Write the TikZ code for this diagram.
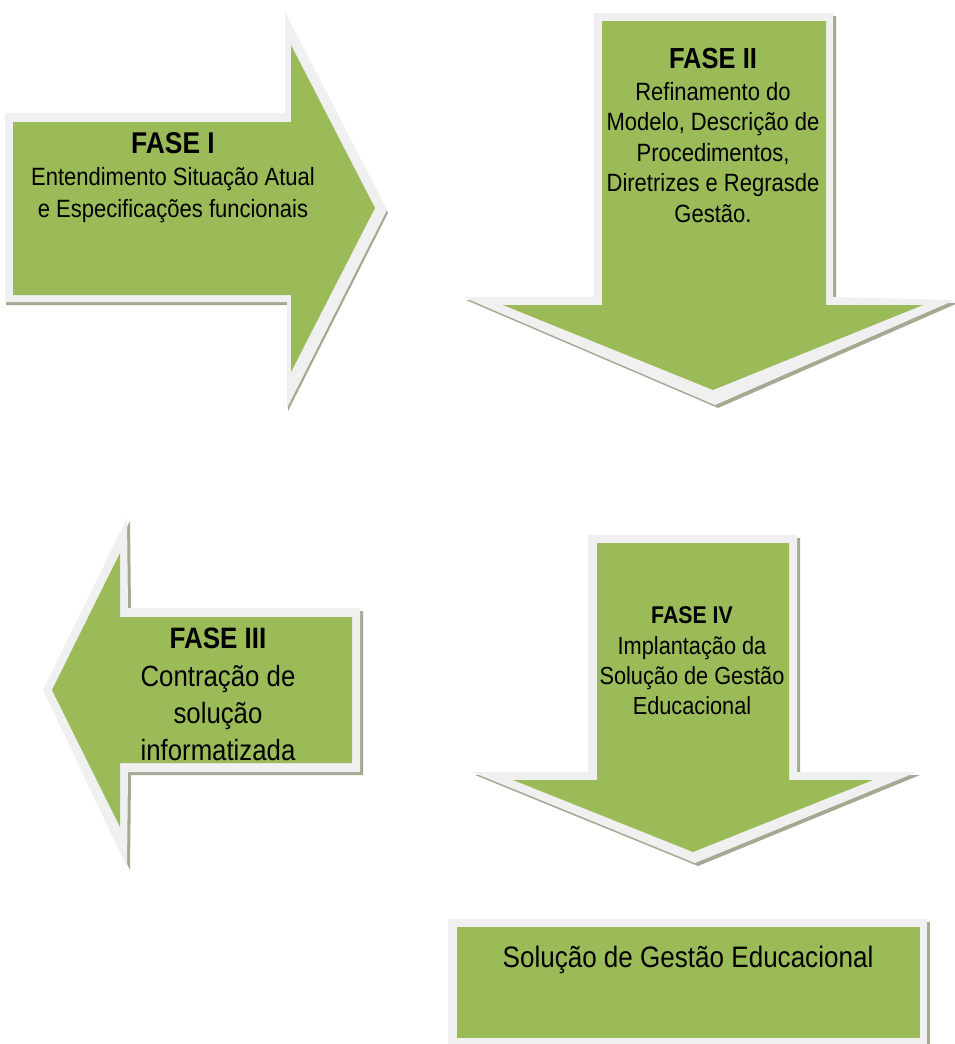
\documentclass[tikz,border=0pt]{standalone}
\usepackage{fontspec}
\setmainfont{Liberation Sans}[FakeStretch=0.88]
\definecolor{fillgreen}{HTML}{9BBB59}
\definecolor{bandgray}{HTML}{F0F0F0}
\definecolor{shadowcol}{HTML}{A2AA92}
\tikzset{
  band/.style={fill=bandgray, draw=none},
  inner/.style={fill=fillgreen, draw=none},
  shade/.style={fill=shadowcol, draw=none},
  label/.style={anchor=base, inner sep=0pt, text=black}
}
\newcommand\stackrows[2]{\vtop{\baselineskip=#1\lineskiplimit=-\maxdimen\lineskip=0pt\halign{\hfil##\hfil\cr#2\cr}}}
\begin{document}
\begin{tikzpicture}[x=1pt,y=-1pt]
\useasboundingbox (0,0) rectangle (955,1044);
% ---------- FASE I : right arrow
\begin{scope}[shift={(1,3)}]
\fill[shade] (5,113) -- (285,113) -- (285,12) -- (387,210) -- (287,408) -- (287,302) -- (5,302) -- cycle;
\end{scope}
\fill[band] (5,113) -- (285,113) -- (285,12) -- (387,210) -- (287,408) -- (287,302) -- (5,302) -- cycle;
\fill[inner] (13,122) -- (291,122) -- (291,45) -- (375,208) -- (291,372) -- (291,295) -- (13,295) -- cycle;
\node[label] (f1) at (173,153) {\fontsize{25}{32}\selectfont\stackrows{32pt}{{\fontsize{30}{32}\selectfont\bfseries FASE I}\cr Entendimento Situação Atual\cr e Especificações funcionais}};
% ---------- FASE II : down arrow
\begin{scope}[shift={(3,3)}]
\fill[shade] (594,13) -- (833,13) -- (833,297) -- (955,300) -- (715,405) -- (463,297) -- (594,297) -- cycle;
\end{scope}
\fill[band] (594,13) -- (833,13) -- (833,297) -- (955,300) -- (715,405) -- (463,297) -- (594,297) -- cycle;
\fill[inner] (602,21) -- (826,21) -- (826,305) -- (923,305) -- (713,390) -- (503,305) -- (602,305) -- cycle;
\node[label] (f2) at (713,68) {\fontsize{25}{30}\selectfont\stackrows{30.5pt}{{\fontsize{29}{30}\selectfont\bfseries FASE II}\cr\noalign{\kern1.5pt}Refinamento do\cr Modelo, Descrição de\cr Procedimentos,\cr Diretrizes e Regrasde\cr Gestão.}};
% ---------- FASE III : left arrow
\begin{scope}[shift={(3,3)}]
\fill[shade] (43,690) -- (127,518) -- (128,608) -- (360,608) -- (360,772) -- (128,772) -- (127,867) -- cycle;
\end{scope}
\fill[band] (43,690) -- (127,518) -- (128,608) -- (360,608) -- (360,772) -- (128,772) -- (127,867) -- cycle;
\fill[inner] (52,690) -- (120,553) -- (120,617) -- (352,617) -- (352,763) -- (120,763) -- (120,827) -- cycle;
\node[label] (f3) at (218,648) {\fontsize{29.3}{37}\selectfont\stackrows{37pt}{{\fontsize{29.5}{37}\selectfont\bfseries FASE III}\cr\noalign{\kern1pt}Contração de\cr solução\cr informatizada}};
% ---------- FASE IV : down arrow
\begin{scope}[shift={(3,3)}]
\fill[shade] (588,535) -- (797,535) -- (797,772) -- (917,772) -- (695,863) -- (472,772) -- (588,772) -- cycle;
\end{scope}
\fill[band] (588,535) -- (797,535) -- (797,772) -- (917,772) -- (695,863) -- (472,772) -- (588,772) -- cycle;
\fill[inner] (597,543) -- (789,543) -- (789,780) -- (873,780) -- (693,852) -- (513,780) -- (597,780) -- cycle;
\node[label] (f4) at (692,623) {\fontsize{24.7}{30}\selectfont\stackrows{30pt}{{\fontsize{24.2}{30}\selectfont\bfseries FASE IV}\cr\noalign{\kern1pt}Implantação da\cr Solução de Gestão\cr Educacional}};
% ---------- Result box
\begin{scope}[shift={(3,3)}]
\fill[shade] (448,919) rectangle (927,1044);
\end{scope}
\fill[band] (448,919) rectangle (927,1044);
\fill[inner] (457,927) rectangle (920,1038);
\node[label] (res) at (688,967) {\fontsize{29.6}{34}\selectfont Solução de Gestão Educacional};
\end{tikzpicture}
\end{document}
